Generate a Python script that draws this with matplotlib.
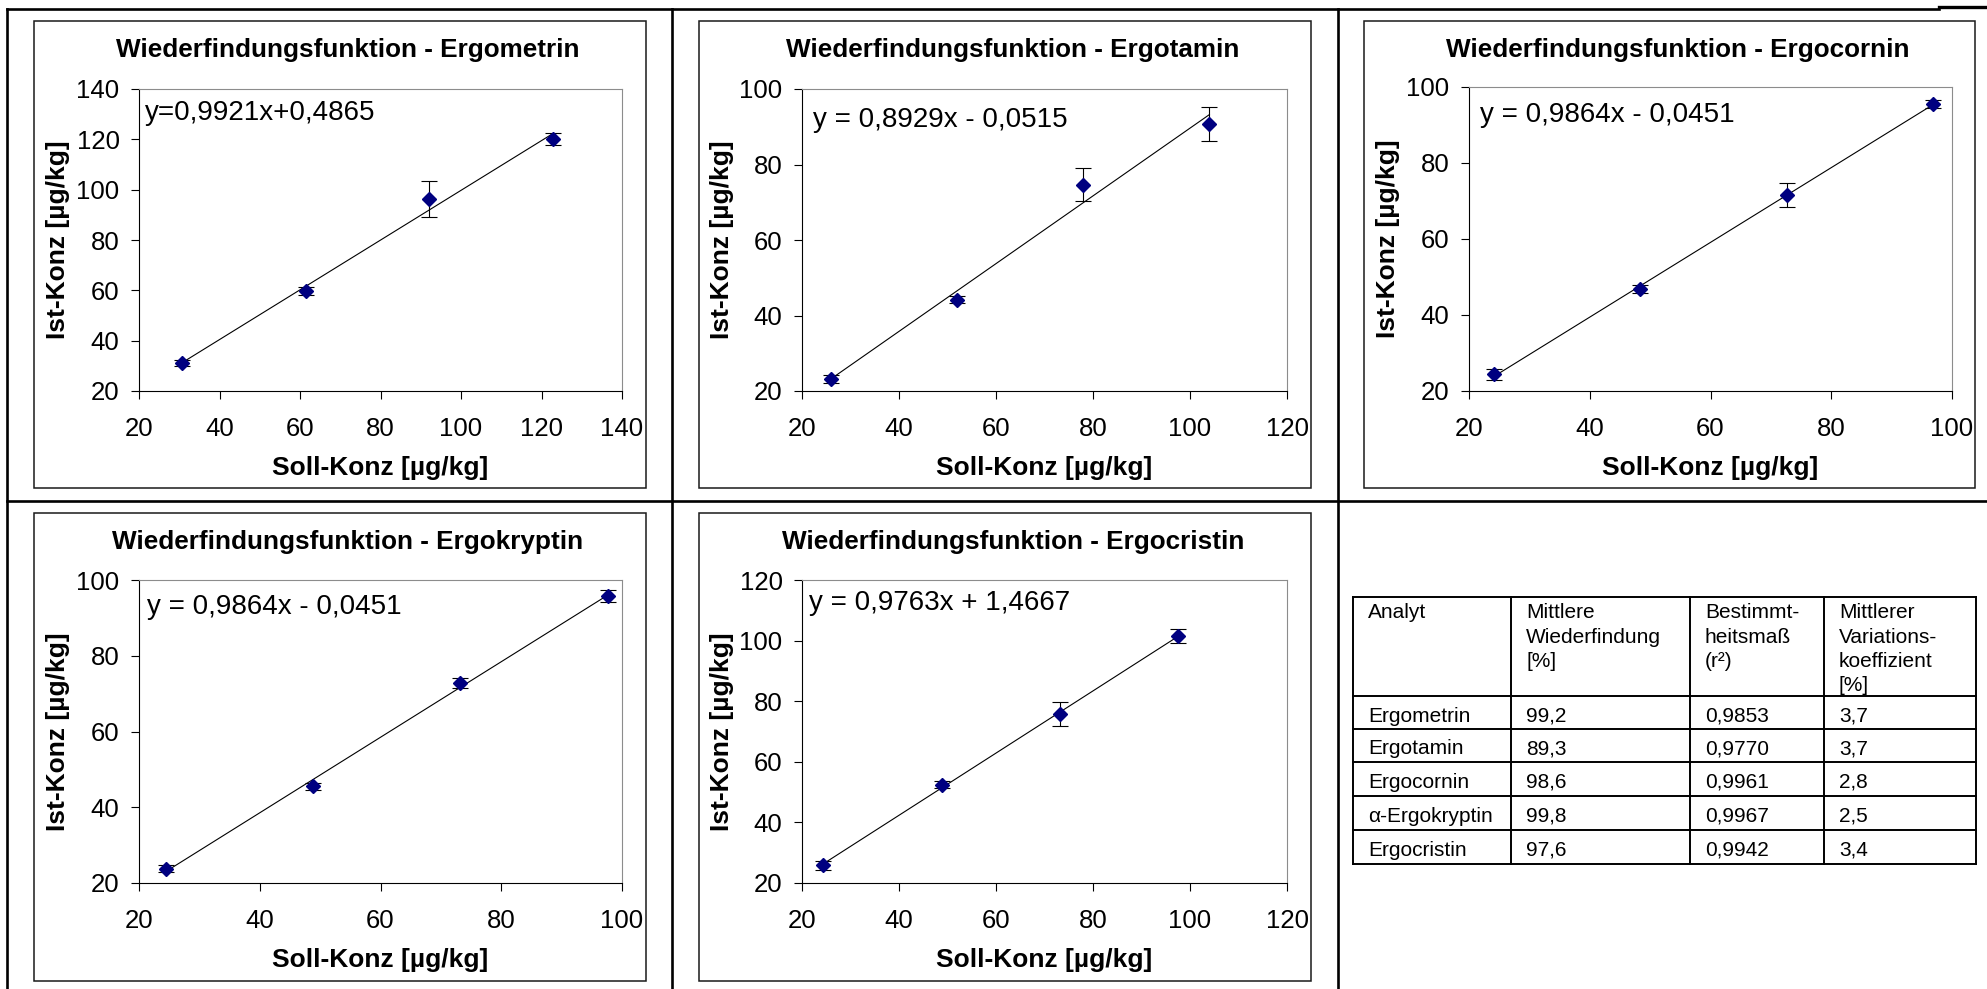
import numpy as np
import matplotlib
matplotlib.use("Agg")
import matplotlib.pyplot as plt

plt.rcParams["font.family"] = ["Liberation Sans", "DejaVu Sans"]

W, H = 1987, 989

# data
analytes = ["Ergometrin", "Ergotamin", "Ergocornin", "Ergokryptin", "Ergocristin"]

soll_ergometrin = [30.7, 61.4, 92.1, 122.8]
ist_ergometrin = [31.0, 59.8, 96.2, 120.0]
sd_ergometrin = [1.2, 1.5, 7.2, 2.4]

soll_ergotamin = [26.0, 52.0, 78.0, 104.0]
ist_ergotamin = [23.2, 44.2, 74.7, 90.8]
sd_ergotamin = [1.0, 1.0, 4.3, 4.5]

soll_ergocornin = [24.2, 48.4, 72.6, 96.8]
ist_ergocornin = [24.4, 46.9, 71.6, 95.5]
sd_ergocornin = [1.5, 1.0, 3.1, 1.0]

soll_ergokryptin = [24.4, 48.8, 73.2, 97.6]
ist_ergokryptin = [23.8, 45.5, 72.8, 95.8]
sd_ergokryptin = [1.0, 1.0, 1.2, 1.5]

soll_ergocristin = [24.4, 48.8, 73.2, 97.6]
ist_ergocristin = [25.8, 52.5, 75.8, 101.5]
sd_ergocristin = [1.5, 1.0, 4.0, 2.3]

# equations as printed in the charts
equations = ["y=0,9921x+0,4865", "y = 0,8929x - 0,0515", "y = 0,9864x - 0,0451",
             "y = 0,9864x - 0,0451", "y = 0,9763x + 1,4667"]
x_max = [140, 120, 100, 100, 120]
y_max = [140, 100, 100, 100, 120]

# table
table_header = ["Analyt", "Mittlere\nWiederfindung\n[%]", "Bestimmt-\nheitsmaß\n(r²)",
                "Mittlerer\nVariations-\nkoeffizient\n[%]"]
table_analyt = ["Ergometrin", "Ergotamin", "Ergocornin", "α-Ergokryptin", "Ergocristin"]
table_wf = ["99,2", "89,3", "98,6", "99,8", "97,6"]
table_r2 = ["0,9853", "0,9770", "0,9961", "0,9967", "0,9942"]
table_vk = ["3,7", "3,7", "2,8", "2,5", "3,4"]

series = [
    (soll_ergometrin, ist_ergometrin, sd_ergometrin),
    (soll_ergotamin, ist_ergotamin, sd_ergotamin),
    (soll_ergocornin, ist_ergocornin, sd_ergocornin),
    (soll_ergokryptin, ist_ergokryptin, sd_ergokryptin),
    (soll_ergocristin, ist_ergocristin, sd_ergocristin),
]

# layout in pixels (left, top, right, bottom)
plots = [(139, 89, 622, 391), (802, 89, 1287, 391), (1469, 87, 1952, 391),
         (139, 580, 622, 883), (802, 580, 1287, 883)]
boxes = [(34, 21, 646, 488), (699, 21, 1311, 488), (1364, 21, 1975, 488),
         (34, 513, 646, 981), (699, 513, 1311, 981)]
eq_off = [(6, 24), (11, 31), (11, 28), (8, 27), (7, 23)]


def frac(l, t, r, b):
    return [l / W, 1 - b / H, (r - l) / W, (b - t) / H]


fig = plt.figure(figsize=(W / 100, H / 100), dpi=100)
bg = fig.add_axes([0, 0, 1, 1])
bg.set_xlim(0, W)
bg.set_ylim(H, 0)
bg.axis("off")

# outer grid of the document table
lw_grid = 1.9
bg.plot([7, 1939], [9, 9], color="black", lw=lw_grid)
bg.plot([1939, 1987], [7, 7], color="black", lw=2.4)
for xv in [7, 672, 1338]:
    bg.plot([xv, xv], [9, H], color="black", lw=lw_grid)
bg.plot([7, W], [500.5, 500.5], color="black", lw=lw_grid)

for i, name in enumerate(analytes):
    l, t, r, b = plots[i]
    bl, bt, br, bb = boxes[i]
    bg.add_patch(plt.Rectangle((bl, bt), br - bl, bb - bt, fill=False,
                               edgecolor="#1a1a1a", lw=1.1))
    bg.text((bl + br) / 2 + 8, bt + 29, "Wiederfindungsfunktion - " + name,
            ha="center", va="center", fontsize=18.8, fontweight="bold")
    bg.text((l + r) / 2, b + 77, "Soll-Konz [µg/kg]", ha="center", va="center",
            fontsize=19, fontweight="bold")
    bg.text(l - 80.5, (t + b) / 2, "Ist-Konz [µg/kg]", ha="center", va="center",
            rotation=90, fontsize=19, fontweight="bold")
    bg.text(l + eq_off[i][0], t + eq_off[i][1], equations[i], ha="left", va="center",
            fontsize=20)

    ax = fig.add_axes(frac(l, t, r, b))
    ax.set_facecolor("none")
    soll, ist, sd = series[i]
    # linear trendline (least squares) over the data range
    m, c = np.polyfit(soll, ist, 1)
    xs = np.array([min(soll), max(soll)])
    ax.plot(xs, m * xs + c, color="black", lw=0.8, zorder=2)
    ax.errorbar(soll, ist, yerr=sd, fmt="D", color="#000080", ms=7, mec="#000080",
                ecolor="black", elinewidth=0.8, capsize=5.5, capthick=0.8,
                zorder=3, clip_on=False)
    ax.set_xlim(20, x_max[i])
    ax.set_ylim(20, y_max[i])
    ax.set_xticks(np.arange(20, x_max[i] + 1, 20))
    ax.set_yticks(np.arange(20, y_max[i] + 1, 20))
    for side in ["left", "bottom"]:
        ax.spines[side].set_color("black")
        ax.spines[side].set_linewidth(0.8)
    for side in ["top", "right"]:
        ax.spines[side].set_color("#8c8c8c")
        ax.spines[side].set_linewidth(0.8)
    ax.tick_params(axis="both", direction="out", length=6, width=0.8, labelsize=18.5)
    ax.tick_params(axis="x", pad=13)
    ax.tick_params(axis="y", pad=8)

# summary table
col_x = [1353, 1511, 1690, 1824, 1976]
row_y = [597, 696, 729, 762, 796, 830, 864]
for yv in row_y:
    bg.plot([col_x[0], col_x[-1]], [yv, yv], color="black", lw=1.4)
for xv in col_x:
    bg.plot([xv, xv], [row_y[0], row_y[-1]], color="black", lw=1.4)

for j, head in enumerate(table_header):
    for k, line in enumerate(head.split("\n")):
        bg.text(col_x[j] + 15, row_y[0] + 21.5 + k * 24.3, line, ha="left",
                va="baseline", fontsize=15)

columns = [table_analyt, table_wf, table_r2, table_vk]
for j, col in enumerate(columns):
    for k, cell in enumerate(col):
        bg.text(col_x[j] + 15, row_y[k + 1] + 25.5, cell, ha="left",
                va="baseline", fontsize=15)

plt.savefig("out.png", dpi=100)
